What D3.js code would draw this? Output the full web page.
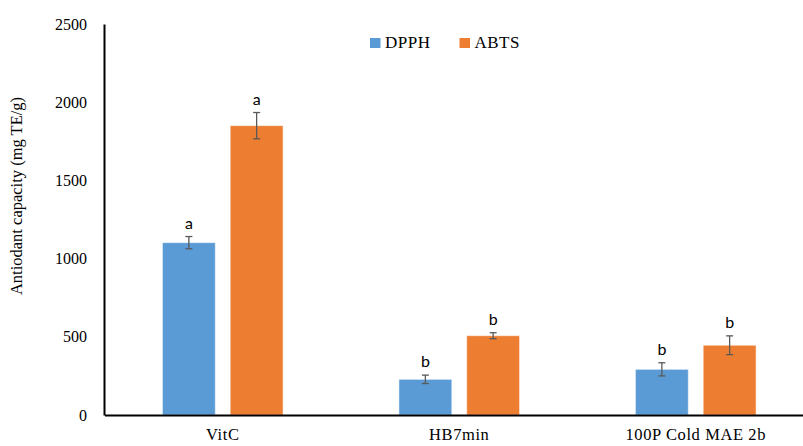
<!DOCTYPE html>
<html><head><meta charset="utf-8">
<script src="https://cdn.jsdelivr.net/npm/d3@7"></script>
<style>body{margin:0;background:#fff}svg{display:block}</style>
</head><body>
<script>
const categories = ["VitC", "HB7min", "100P Cold MAE 2b"];
const seriesNames = ["DPPH", "ABTS"];
const dpph = [1102, 228, 292];
const dpphErr = [39, 27, 42];
const abts = [1850, 507, 446];
const abtsErr = [84, 19, 60];
const dpphLetters = ["a", "b", "b"];
const abtsLetters = ["a", "b", "b"];
const yTicks = [0, 500, 1000, 1500, 2000, 2500];
const colors = ["#5B9BD5", "#ED7D31"];

const W = 803, H = 446;
const svg = d3.select("body").append("svg").attr("width", W).attr("height", H);
const serif = "'Liberation Serif', 'DejaVu Serif', serif";
const sans = "Lato, 'Liberation Sans', sans-serif";

const y = d3.scaleLinear().domain([0, 2500]).range([415, 24]);
const x0 = d3.scaleBand().domain(categories).range([104.5, 814]).paddingInner(0.49).paddingOuter(0.245);
const x1 = d3.scaleBand().domain(seriesNames).range([0, x0.bandwidth()]).paddingInner(0.22);

const data = categories.map((c, i) => ({
  cat: c,
  vals: [
    {s: "DPPH", v: dpph[i], e: dpphErr[i], l: dpphLetters[i]},
    {s: "ABTS", v: abts[i], e: abtsErr[i], l: abtsLetters[i]}
  ]
}));

const g = svg.append("g");
const groups = g.selectAll("g.cat").data(data).join("g")
  .attr("transform", d => `translate(${x0(d.cat)},0)`);

groups.selectAll("rect").data(d => d.vals).join("rect")
  .attr("x", d => x1(d.s)).attr("width", x1.bandwidth())
  .attr("y", d => y(d.v)).attr("height", d => y(0) - y(d.v))
  .attr("fill", (d, i) => colors[i])
  .attr("stroke", "rgba(255,255,255,0.5)").attr("stroke-width", 1);

const eb = groups.selectAll("g.eb").data(d => d.vals).join("g").attr("class", "eb");
eb.append("line")
  .attr("x1", d => x1(d.s) + x1.bandwidth() / 2).attr("x2", d => x1(d.s) + x1.bandwidth() / 2)
  .attr("y1", d => y(d.v + d.e)).attr("y2", d => y(d.v - d.e))
  .attr("stroke", "#595959").attr("stroke-width", 1.3);
[1, -1].forEach(sg => {
  eb.append("line")
    .attr("x1", d => x1(d.s) + x1.bandwidth() / 2 - 3.5).attr("x2", d => x1(d.s) + x1.bandwidth() / 2 + 3.5)
    .attr("y1", d => y(d.v + sg * d.e)).attr("y2", d => y(d.v + sg * d.e))
    .attr("stroke", "#595959").attr("stroke-width", 1.3);
});
eb.append("text")
  .attr("x", d => x1(d.s) + x1.bandwidth() / 2)
  .attr("y", d => y(d.v + d.e) - 8)
  .attr("text-anchor", "middle")
  .attr("font-family", sans).attr("font-size", 16).attr("fill", "#000")
  .text(d => d.l);

// Axes
const yAxis = d3.axisLeft(y).tickValues(yTicks).tickFormat(d3.format("d")).tickSize(0).tickPadding(17);
const ya = svg.append("g").attr("transform", "translate(104,0)").call(yAxis);
ya.select(".domain").attr("stroke", "#000").attr("stroke-width", 2);
ya.selectAll("text").attr("font-family", serif).attr("font-size", 16).attr("fill", "#000");

const xAxis = d3.axisBottom(x0).tickSize(0).tickPadding(13);
const xa = svg.append("g").attr("transform", "translate(0,415)").call(xAxis);
xa.select(".domain").attr("stroke", "#000").attr("stroke-width", 2);
xa.selectAll("text").attr("font-family", serif).attr("font-size", 16.5)
  .attr("letter-spacing", "0.6px").attr("fill", "#000");

svg.append("text")
  .attr("transform", "translate(22,196) rotate(-90)")
  .attr("text-anchor", "middle")
  .attr("font-family", serif).attr("font-size", 16.5).attr("fill", "#000")
  .text("Antiodant capacity (mg TE/g)");

// Legend
const legX = [370, 459.5];
const leg = svg.selectAll("g.leg").data(seriesNames).join("g")
  .attr("transform", (d, i) => `translate(${legX[i]},38)`);
leg.append("rect").attr("width", 10.5).attr("height", 10).attr("fill", (d, i) => colors[i]);
leg.append("text").attr("x", 15).attr("y", 10)
  .attr("font-family", serif).attr("font-size", 17).attr("letter-spacing", "0.5px").attr("fill", "#000")
  .text(d => d);
</script>
</body></html>
